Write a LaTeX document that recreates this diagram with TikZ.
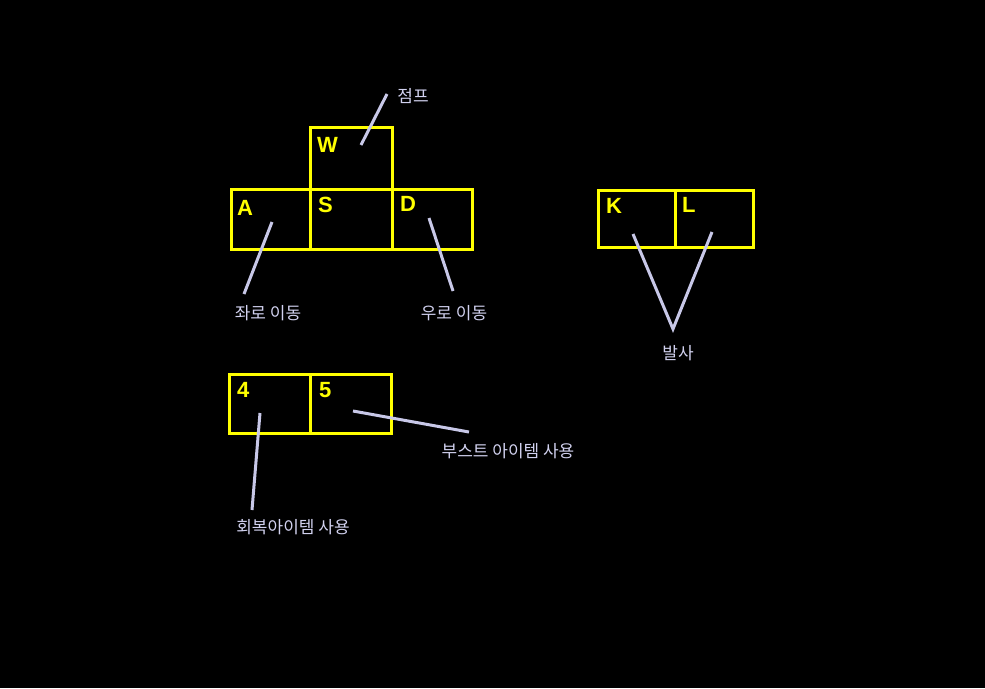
\documentclass[tikz,border=0pt]{standalone}
\usepackage{fontspec}
\newfontfamily\kr{Noto Sans CJK KR}
\newfontfamily\keyfont{Liberation Sans}
\definecolor{keyyellow}{RGB}{255,255,0}
\definecolor{lav}{RGB}{200,200,232}
\definecolor{labtext}{RGB}{210,210,240}
\begin{document}
\begin{tikzpicture}[x=1pt,y=-1pt,
  keybox/.style={draw=keyyellow,line width=3pt},
  keylabel/.style={anchor=base west,inner sep=0pt,text=keyyellow,font=\keyfont\bfseries\fontsize{22}{25}\selectfont},
  lbl/.style={inner sep=0pt,text=labtext,font=\kr\fontsize{17}{20}\selectfont},
  pointer/.style={draw=lav,line width=3pt}]
\fill[black] (0,0) rectangle (985,688);
\useasboundingbox (0,0) rectangle (985,688);
% key boxes
\draw[keybox] (310,127) rectangle (392,189);
\draw[keybox] (231,189) rectangle (472,249);
\draw[keybox] (310,189) -- (310,249);
\draw[keybox] (392,189) -- (392,249);
\draw[keybox] (598,190) rectangle (753,247);
\draw[keybox] (675,190) -- (675,247);
\draw[keybox] (229,374) rectangle (391,433);
\draw[keybox] (310,374) -- (310,433);
% key letters
\node[keylabel] (kw) at (317,152) {W};
\node[keylabel] (ka) at (237,215) {A};
\node[keylabel] (ks) at (318,212) {S};
\node[keylabel] (kd) at (400,211) {D};
\node[keylabel] (kk) at (606,213) {K};
\node[keylabel] (kl) at (682,212) {L};
\node[keylabel] (k4) at (237,397) {4};
\node[keylabel] (k5) at (319,397) {5};
% labels
\node[lbl] (ljump) at (413,96) {점프};
\node[lbl] (lleft) at (268,313) {좌로 이동};
\node[lbl] (lright) at (454,313) {우로 이동};
\node[lbl] (lfire) at (678,353) {발사};
\node[lbl] (lboost) at (508,451) {부스트 아이템 사용};
\node[lbl] (lheal) at (293,527) {회복아이템 사용};
% pointer coordinates
\coordinate (pw1) at (361,145); \coordinate (pw2) at (387,94);
\coordinate (pa1) at (272,222); \coordinate (pa2) at (244,294);
\coordinate (pd1) at (429,218); \coordinate (pd2) at (453,291);
\coordinate (pk) at (633,234); \coordinate (pl) at (712,232); \coordinate (pv) at (673,329);
\coordinate (p51) at (353,411); \coordinate (p52) at (469,432);
\coordinate (p41) at (260,413); \coordinate (p42) at (252,510);
\draw[pointer] (pw1) -- (pw2);
\draw[pointer] (pa1) -- (pa2);
\draw[pointer] (pd1) -- (pd2);
\draw[pointer] (pk) -- (pv) -- (pl);
\draw[pointer] (p51) -- (p52);
\draw[pointer] (p41) -- (p42);
\end{tikzpicture}
\end{document}
